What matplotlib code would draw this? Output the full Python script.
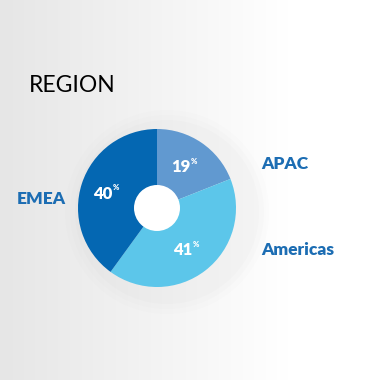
import numpy as np
import matplotlib.pyplot as plt
from matplotlib.patches import Circle

plt.rcParams['font.family'] = ['Lato', 'DejaVu Sans']

regions = ["APAC", "Americas", "EMEA"]
shares = [19, 41, 40]
colors = ["#6199d0", "#5cc6ea", "#0467b2"]
label_color = "#1c6db3"

fig = plt.figure(figsize=(3.68, 3.80), dpi=100)

# background gradient (grey on the left fading to white)
bg = fig.add_axes([0, 0, 1, 1])
grad = np.clip(np.linspace(0, 1.27, 368), 0, 1)
grad = np.tile(grad, (10, 1))
bg.imshow(grad, cmap=plt.cm.colors.LinearSegmentedColormap.from_list("g", ["#e6e6e6", "#ffffff"]),
          aspect="auto", extent=[0, 368, 0, 380])
bg.set_xlim(0, 368)
bg.set_ylim(0, 380)
bg.axis("off")

ax = fig.add_axes([0, 0, 1, 1])

cx, cy, r = 157, 172, 79

# faint shadow disc behind the pie
for rad, a in [(102, 0.02), (97, 0.025), (92, 0.03)]:
    ax.add_patch(Circle((cx + 10, cy - 4), rad, color="#a0a0a0", alpha=a, lw=0, zorder=0))

wedges, _, autotexts = ax.pie(shares, colors=colors, startangle=90, counterclock=False,
                              center=(cx, cy), radius=r, autopct="%d", pctdistance=0.65,
                              wedgeprops=dict(linewidth=0), frame=True)
ax.set_xlim(0, 368)
ax.set_ylim(0, 380)
ax.set_aspect("equal")
ax.axis("off")
ax.add_patch(Circle((cx, cy), 23, color="white", lw=0, zorder=5))

for t in autotexts:
    x, y = t.get_position()
    t.set_visible(False)
    ax.annotate(t.get_text(), (x, y), xytext=(3, -1), textcoords="offset points",
                ha="right", va="center", color="white", fontsize=12, fontweight="heavy")
    ax.annotate("%", (x, y), xytext=(3.3, 3), textcoords="offset points",
                ha="left", va="center", color="white", fontsize=5.5, fontweight="heavy")

ax.text(29, 295, "REGION", fontsize=16.5, color="black", va="center", ha="left")
ax.text(17, 181, regions[2], fontsize=12.5, fontweight="heavy", color=label_color, va="center", ha="left")
ax.text(261, 216, regions[0], fontsize=12.5, fontweight="heavy", color=label_color, va="center", ha="left")
ax.text(261, 130, regions[1], fontsize=12.5, fontweight="heavy", color=label_color, va="center", ha="left")

fig.savefig("out.png", dpi=100)
